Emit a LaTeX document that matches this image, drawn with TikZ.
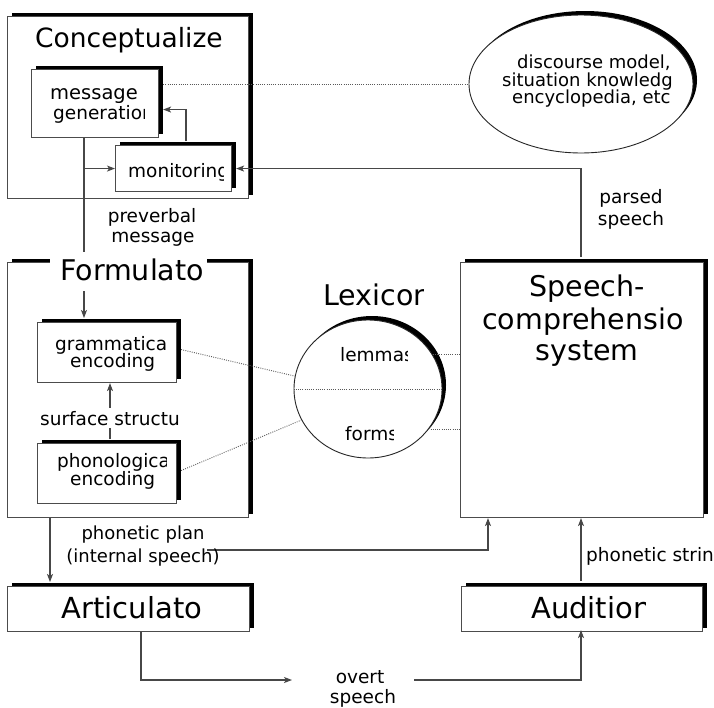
\documentclass[tikz,border=0pt]{standalone}
\usepackage{fontspec}
\setmainfont{DejaVu Sans}
\usetikzlibrary{arrows.meta,shadows,shapes.geometric,calc}
\begin{document}
\begin{tikzpicture}[x=1pt,y=-1pt,
  box/.style={draw=black!70, line width=1.1pt, fill=white, inner sep=0pt, anchor=north west,
     general shadow={fill=black, shadow xshift=4pt, shadow yshift=4pt}},
  oval/.style={ellipse, draw=black!85, line width=0.9pt, fill=white, inner sep=0pt,
     general shadow={fill=black, shadow xshift=4pt, shadow yshift=4pt}},
  conn/.style={draw=black!72, line width=1.1pt},
  arr/.style={conn, -{Stealth[length=8pt,width=6pt,inset=2pt]}},
  dots/.style={draw=black!65, line width=0.9pt, dash pattern=on 0.9pt off 1.3pt},
  ttl/.style={font=\fontsize{28.5}{32}\selectfont, inner sep=0pt, anchor=base west},
  lbl/.style={font=\fontsize{18.5}{20}\selectfont, inner sep=0pt, anchor=base west},
  lblc/.style={font=\fontsize{18.5}{20}\selectfont, inner sep=0pt, anchor=base},
]
\useasboundingbox (0,0) rectangle (714,707);
\fill[white] (0,0) rectangle (714,707);

% boxes
\node[box, minimum width=241pt, minimum height=182pt] (cz) at (7,16) {};
\node[box, minimum width=127pt, minimum height=68pt] (mg) at (31,69) {};
\node[box, minimum width=116pt, minimum height=46pt] (mon) at (115,145) {};
\node[box, minimum width=241pt, minimum height=255pt] (fm) at (7,262) {};
\node[box, minimum width=139pt, minimum height=60pt] (ge) at (37,322) {};
\node[box, minimum width=139pt, minimum height=60pt] (pe) at (37,443) {};
\node[box, minimum width=243pt, minimum height=255pt] (sc) at (460,262) {};
\node[box, minimum width=242pt, minimum height=45pt] (ar) at (7,586) {};
\node[box, minimum width=241pt, minimum height=45pt] (au) at (461,586) {};
\node[oval, minimum width=224pt, minimum height=138pt] (dm) at (581,84) {};
\node[oval, minimum width=148pt, minimum height=138pt] (lex) at (368,389) {};

% helper coordinates
\coordinate (xA) at (84,0);
\coordinate (xB) at (186,0);
\coordinate (xC) at (581,0);
\coordinate (xD) at (50,0);
\coordinate (xE) at (488,0);
\coordinate (xF) at (141,0);
\coordinate (xG) at (110,0);
\coordinate (pp) at (207,550);
\coordinate (ovin) at (292,680);
\coordinate (ovout) at (414,680);

% connectors
\draw[arr, shorten >=4pt] (mg.south -| xA) -- (ge.north -| xA);
\draw[arr] (mon.west -| xA) -- (mon.west);
\draw[arr, shorten >=4pt] ($(mon.north -| xB)+(0,-4)$) |- ($(mg.east)+(0,6)$);
\draw[arr, shorten >=4pt] ($(sc.north -| xC)+(0,-5)$) |- (mon.east);
\draw[dots] ($(mg.north east)+(4,15)$) -- (dm.west);
\draw[dots] ($(ge.east)+(4,-3)$) -- (lex.170);
\draw[dots] ($(pe.east)+(4,-3)$) -- (lex.205);
\draw[dots] (lex.west) -- (lex.east);
\draw[dots] (lex.28) -- (lex.28 -| sc.west);
\draw[dots] (lex.-34) -- (lex.-34 -| sc.west);
\draw[arr] ($(pe.north -| xG)+(0,-4)$) -- (ge.south -| xG);
\draw[arr, shorten >=4pt] (fm.south -| xD) -- (ar.north -| xD);
\draw[arr] (pp) -| (sc.south -| xE);
\draw[arr] ($(au.north -| xC)+(0,-5)$) -- (sc.south -| xC);
\draw[arr] (ar.south -| xF) |- (ovin);
\draw[arr, shorten >=-2pt] (ovout) -| (au.south -| xC);

% texts
\begin{scope}\clip (20,18) rectangle (231,62);
\node[ttl, font=\fontsize{26.5}{30}\selectfont] (tcz) at (35,47) {Conceptualize};
\end{scope}
\node[lbl, font=\fontsize{19.5}{22}\selectfont] (tmg1) at (50,99) {message};
\begin{scope}\clip (40,100) rectangle (144,130);
\node[lbl] (tmg2) at (53,119) {generation};
\end{scope}
\begin{scope}\clip (120,150) rectangle (223,190);
\node[lbl] (tmon) at (128,177) {monitoring};
\end{scope}
\node[lblc] (tpv1) at (152,222) {preverbal};
\node[lblc] (tpv2) at (153,242) {message};

\fill[white] (50,252) rectangle (207,291);
\node[ttl] (tfm) at (60,280) {Formulato};
\begin{scope}\clip (45,330) rectangle (165,360);
\node[lbl] (tge1) at (55,350) {grammatica};
\end{scope}
\node[lbl] (tge2) at (70,367) {encoding};
\begin{scope}\clip (35,400) rectangle (178,440);
\node[lbl, fill=white, inner ysep=3pt] (tss) at (40,425) {surface structu};
\end{scope}
\begin{scope}\clip (45,445) rectangle (166,475);
\node[lbl] (tpe1) at (57,467) {phonologica};
\end{scope}
\node[lbl] (tpe2) at (70,485) {encoding};

\begin{scope}\clip (315,275) rectangle (423,315);
\node[ttl] (tlex) at (323,305) {Lexicon};
\end{scope}
\begin{scope}\clip (330,335) rectangle (407,370);
\node[lbl] (tlem) at (340,361) {lemmas};
\end{scope}
\begin{scope}\clip (335,415) rectangle (393,448);
\node[lbl] (tfor) at (345,440) {forms};
\end{scope}

\node[ttl, anchor=base] (tsc1) at (587,296) {Speech-};
\node[ttl] (tsc2) at (482,329) {comprehensio};
\node[ttl, anchor=base] (tsc3) at (587,360) {system};
\node[lblc] (tps1) at (631,203) {parsed};
\node[lblc] (tps2) at (631,225) {speech};

\node[lbl, font=\fontsize{18}{20}\selectfont] (tdm1) at (517,68) {discourse model,};
\node[lbl, font=\fontsize{18}{20}\selectfont] (tdm2) at (502,86) {situation knowledg};
\node[lbl, font=\fontsize{18}{20}\selectfont] (tdm3) at (512,103) {encyclopedia, etc};

\node[lblc, font=\fontsize{18}{20}\selectfont] (tpp1) at (143,539) {phonetic plan};
\node[lblc, font=\fontsize{18}{20}\selectfont] (tpp2) at (143,562) {(internal speech)};
\begin{scope}\clip (580,540) rectangle (712,570);
\node[lbl] (tphs) at (586,561) {phonetic strin};
\end{scope}

\node[ttl, font=\fontsize{29}{32}\selectfont, anchor=base] (tar) at (132,618) {Articulato};
\begin{scope}\clip (520,590) rectangle (645,628);
\node[ttl, font=\fontsize{29}{32}\selectfont] (tau) at (531,618) {Audition};
\end{scope}
\node[lblc] (tov1) at (360,683) {overt};
\node[lblc] (tov2) at (363,703) {speech};
\end{tikzpicture}
\end{document}
